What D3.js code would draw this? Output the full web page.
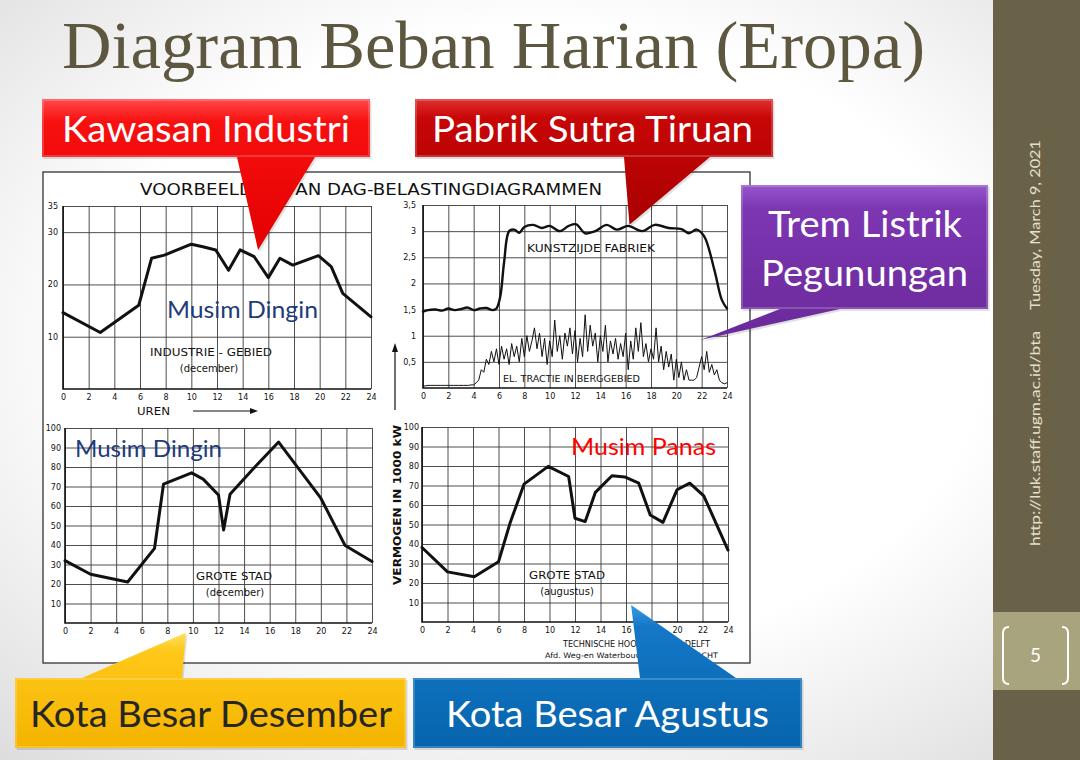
<!DOCTYPE html>
<html>
<head>
<meta charset="utf-8">
<script src="https://cdn.jsdelivr.net/npm/d3@7/dist/d3.min.js"></script>
<style>
  body { margin: 0; background: #fff; }
  .tick text { font-family: "DejaVu Sans", sans-serif; font-size: 8px; fill: #111; }
  .tick line { stroke: #3a3a3a; stroke-width: 0.9; }
  .scan { font-family: "DejaVu Sans", sans-serif; fill: #111; }
</style>
</head>
<body>
<div id="chart"></div>
<script>
// Hours on every x axis
const hourTicks = [0, 2, 4, 6, 8, 10, 12, 14, 16, 18, 20, 22, 24];

// Industrie-gebied (december), x 1000 kW
const industrieHours = [0, 2.9, 5.9, 6.9, 7.9, 8.9, 10, 10.9, 11.9, 12.9, 13.8, 14.9, 16, 16.9, 17.9, 19.9, 20.9, 21.8, 24];
const industrieLoad = [14.6, 10.8, 16, 25, 25.6, 26.6, 27.7, 27.2, 26.6, 22.7, 26.6, 25.3, 21.3, 25, 23.7, 25.5, 23.4, 18.3, 13.8];

// Kunstzijde fabriek
const fabriekHours = [0, 0.4, 1, 1.5, 2, 2.5, 3, 3.5, 4, 4.5, 5, 5.5, 5.8, 6.1, 6.4, 6.8, 7.2, 7.6, 8, 8.7,
  9.4, 10, 10.8, 11.5, 12.1, 12.8, 13.6, 14.5, 15.3, 16.2, 17.3, 18.3, 19.4, 20.4, 21, 21.6, 22.2, 23, 23.6, 24];
const fabriekLoad = [1.46, 1.49, 1.5, 1.48, 1.52, 1.49, 1.51, 1.54, 1.49, 1.52, 1.53, 1.49, 1.52, 1.75, 2.4, 3.0, 3.03, 2.97, 3.08, 3.12,
  3.06, 3.1, 3.0, 3.1, 3.13, 2.96, 3.0, 3.12, 3.03, 3.1, 3.0, 3.12, 3.06, 3.04, 2.96, 3.03, 2.9, 2.26, 1.68, 1.52];

// El. tractie in berggebied, one reading every 0.2 h from 0 to 24
const tractieStep = 0.2;
const tractieLoad = [
  0.04, 0.04, 0.05, 0.05, 0.05, 0.05, 0.05, 0.05, 0.05, 0.05, 0.05, 0.05, 0.05, 0.05, 0.05, 0.05, 0.05, 0.05, 0.05, 0.06,
  0.06, 0.1, 0.15, 0.35, 0.3,
  0.55, 0.45, 0.7, 0.5, 0.75, 0.45, 0.8, 0.55, 0.75, 0.45,
  0.85, 0.6, 0.8, 0.5, 0.95, 0.6, 1.0, 0.7, 0.9, 1.15,
  0.75, 1.05, 0.6, 0.95, 0.45, 0.9, 0.6, 1.3, 0.7, 1.0,
  0.55, 1.05, 0.8, 1.15, 0.65, 1.1, 0.5, 0.95, 0.6, 1.4,
  0.7, 1.2, 0.8, 1.05, 0.5, 1.0, 0.7, 1.2, 0.5, 0.9,
  0.65, 0.95, 0.55, 0.85, 0.6, 1.05, 0.35, 0.9, 0.55, 1.15,
  0.7, 1.25, 0.6, 0.85, 0.5, 0.75, 0.55, 1.15, 0.5, 0.8,
  0.35, 0.7, 0.4, 0.65, 0.15, 0.55, 0.2, 0.5, 0.15, 0.35,
  0.15, 0.15, 0.15, 0.2, 0.4, 0.6, 0.35, 0.7, 0.3, 0.45,
  0.25, 0.35, 0.15, 0.1, 0.08, 0.1
];

// Grote stad (december)
const decHours = [0, 2, 4.9, 7, 7.7, 9.9, 10.8, 12, 12.4, 12.9, 14.7, 16.7, 20, 21.9, 24];
const decLoad = [32, 25, 21, 38.3, 71.2, 77, 73.8, 65.6, 47.7, 66, 79, 92.8, 64, 39.7, 31.5];

// Grote stad (augustus)
const augHours = [0, 2, 4.1, 6, 6.9, 8, 9.9, 11.5, 12, 12.8, 13.6, 14.9, 15.9, 17, 17.9, 18.9, 20, 21, 22.1, 24];
const augLoad = [38.2, 25.7, 23.2, 30.9, 50.6, 70.7, 79.8, 74.6, 53.2, 51.5, 66.5, 75, 74.4, 71.2, 54.9, 51.1, 67.8, 71.2, 64.7, 36.9];

// y ticks per panel
const industrieTicks = [10, 20, 30, 35];
const fabriekTicks = [0.5, 1, 1.5, 2, 2.5, 3, 3.5];
const stadTicks = [10, 20, 30, 40, 50, 60, 70, 80, 90, 100];

const W = 1080, H = 760;
const svg = d3.select("#chart").append("svg").attr("width", W).attr("height", H);
const defs = svg.append("defs");

function linGrad(id, stops) {
  const g = defs.append("linearGradient").attr("id", id)
    .attr("x1", 0).attr("y1", 0).attr("x2", 0).attr("y2", 1);
  stops.forEach(([o, c]) => g.append("stop").attr("offset", o).attr("stop-color", c));
}
const bg = defs.append("radialGradient").attr("id", "bg")
  .attr("cx", "0.5").attr("cy", "0.45").attr("r", "0.75");
bg.append("stop").attr("offset", "0.55").attr("stop-color", "#ffffff");
bg.append("stop").attr("offset", "1").attr("stop-color", "#dcdcdc");
linGrad("gRed", [[0, "#ff4a4a"], [0.15, "#f81010"], [1, "#e20000"]]);
linGrad("gDark", [[0, "#e03030"], [0.15, "#c80606"], [1, "#a80000"]]);
linGrad("gPurple", [[0, "#9656cc"], [0.15, "#7c36b2"], [1, "#6a2a9a"]]);
linGrad("gYellow", [[0, "#ffe060"], [0.15, "#ffc81a"], [1, "#f4b400"]]);
linGrad("gBlue", [[0, "#3a9ae0"], [0.15, "#1478c8"], [1, "#0664ac"]]);

// slide background
svg.append("rect").attr("width", W).attr("height", H).attr("fill", "url(#bg)");

// sidebar
svg.append("rect").attr("x", 993).attr("y", 0).attr("width", 87).attr("height", H).attr("fill", "#6a6248");
svg.append("rect").attr("x", 993).attr("y", 612).attr("width", 87).attr("height", 78).attr("fill", "#a8a47e");
svg.append("path").attr("d", "M1009,627 Q1003,627 1003,633 V678 Q1003,684 1009,684")
  .attr("fill", "none").attr("stroke", "#fff").attr("stroke-width", 2);
svg.append("path").attr("d", "M1062,627 Q1068,627 1068,633 V678 Q1068,684 1062,684")
  .attr("fill", "none").attr("stroke", "#fff").attr("stroke-width", 2);
svg.append("text").attr("x", 1035.5).attr("y", 662).attr("text-anchor", "middle")
  .attr("font-family", "Lato, sans-serif").attr("font-size", 19).attr("fill", "#fff").text("5");
svg.append("text").attr("transform", "translate(1040,310) rotate(-90)")
  .attr("font-family", "Lato, sans-serif").attr("font-size", 14).attr("fill", "#e4e0cc")
  .attr("textLength", 170).attr("lengthAdjust", "spacingAndGlyphs").text("Tuesday, March 9, 2021");
svg.append("text").attr("transform", "translate(1040,546) rotate(-90)")
  .attr("font-family", "Lato, sans-serif").attr("font-size", 14).attr("fill", "#e4e0cc")
  .attr("textLength", 215).attr("lengthAdjust", "spacingAndGlyphs").text("http://luk.staff.ugm.ac.id/bta");

// title
svg.append("text").attr("x", 62).attr("y", 68)
  .attr("font-family", "'Liberation Serif', serif").attr("font-size", 68).attr("fill", "#5d573f")
  .attr("textLength", 863).attr("lengthAdjust", "spacingAndGlyphs")
  .text("Diagram Beban Harian (Eropa)");

// scanned sheet
svg.append("rect").attr("x", 43).attr("y", 172).attr("width", 707).attr("height", 491)
  .attr("fill", "#fff").attr("stroke", "#333").attr("stroke-width", 1.3);
svg.append("text").attr("class", "scan").attr("x", 140).attr("y", 195)
  .attr("font-size", 16.5).attr("textLength", 462).attr("lengthAdjust", "spacingAndGlyphs")
  .text("VOORBEELDEN VAN DAG-BELASTINGDIAGRAMMEN");

const panels = [
  { left: 63, right: 371, bottom: 389, top: 206, ymax: 35, ticks: industrieTicks, pad: 5 },
  { left: 423, right: 727, bottom: 388, top: 205, ymax: 3.5, ticks: fabriekTicks, pad: 7 },
  { left: 65, right: 372, bottom: 623, top: 428, ymax: 100, ticks: stadTicks, pad: 4 },
  { left: 422, right: 728, bottom: 622, top: 427, ymax: 100, ticks: stadTicks, pad: 3 },
];

panels.forEach(p => {
  p.x = d3.scaleLinear().domain([0, 24]).range([p.left, p.right]);
  p.y = d3.scaleLinear().domain([0, p.ymax]).range([p.bottom, p.top]);
  const g = svg.append("g");
  const xAxis = g.append("g").attr("transform", `translate(0,${p.bottom})`)
    .call(d3.axisBottom(p.x).tickValues(hourTicks).tickSize(-(p.bottom - p.top)).tickPadding(5));
  xAxis.select(".domain").remove();
  const yAxis = g.append("g").attr("transform", `translate(${p.left},0)`)
    .call(d3.axisLeft(p.y).tickValues(p.ticks).tickSize(-(p.right - p.left)).tickPadding(p.pad)
      .tickFormat(d => String(d).replace(".", ",")));
  yAxis.select(".domain").remove();
  g.append("path")
    .attr("d", `M${p.left},${p.top}V${p.bottom}H${p.right}`)
    .attr("fill", "none").attr("stroke", "#111").attr("stroke-width", 1.6);
});

const line = p => d3.line().x(d => p.x(d[0])).y(d => p.y(d[1]));

function drawLine(p, pts, width, curve) {
  svg.append("path").datum(pts)
    .attr("d", line(p).curve(curve || d3.curveLinear))
    .attr("fill", "none").attr("stroke", "#111").attr("stroke-width", width)
    .attr("stroke-linejoin", "round").attr("stroke-linecap", "round");
}

drawLine(panels[0], d3.zip(industrieHours, industrieLoad), 3);
drawLine(panels[1], d3.zip(fabriekHours, fabriekLoad), 2.4, d3.curveCatmullRom);
drawLine(panels[1], tractieLoad.map((v, i) => [i * tractieStep, v]), 1);
drawLine(panels[2], d3.zip(decHours, decLoad), 3);
drawLine(panels[3], d3.zip(augHours, augLoad), 3);

// scan labels
function scanText(x, y, size, txt, len, anchor) {
  const t = svg.append("text").attr("class", "scan").attr("x", x).attr("y", y)
    .attr("font-size", size).attr("text-anchor", anchor || "start").text(txt);
  if (len) t.attr("textLength", len).attr("lengthAdjust", "spacingAndGlyphs");
  return t;
}
scanText(150, 356, 10, "INDUSTRIE - GEBIED", 122);
scanText(209, 372, 10, "(december)", null, "middle");
scanText(137, 415, 10.5, "UREN", 33);
svg.append("path").attr("d", "M193,411H255").attr("stroke", "#111").attr("stroke-width", 1.2);
svg.append("path").attr("d", "M258,411L250,408V414Z").attr("fill", "#111");
scanText(527, 252, 10, "KUNSTZIJDE  FABRIEK", 128);
scanText(503, 382, 8.5, "EL. TRACTIE IN BERGGEBIED", 137);
scanText(196, 580, 10, "GROTE  STAD", 76);
scanText(235, 596, 10, "(december)", null, "middle");
scanText(529, 579, 10, "GROTE  STAD", 76);
scanText(567, 595, 10, "(augustus)", null, "middle");
scanText(563, 647, 8.5, "TECHNISCHE HOOGESCHOOL DELFT", 147);
scanText(545, 658, 7.5, "Afd. Weg-en Waterbouw en WATERKRACHT", 173);
svg.append("text").attr("class", "scan").attr("transform", "translate(401,585) rotate(-90)")
  .attr("font-size", 10.5).attr("font-weight", "bold")
  .attr("textLength", 160).attr("lengthAdjust", "spacingAndGlyphs").text("VERMOGEN  IN  1000  kW");
svg.append("path").attr("d", "M395,410V351").attr("stroke", "#111").attr("stroke-width", 1.2);
svg.append("path").attr("d", "M395,343L392,352H398Z").attr("fill", "#111");

// season notes
function note(x, y, txt, len, color) {
  svg.append("text").attr("x", x).attr("y", y)
    .attr("font-family", "Lato, sans-serif").attr("font-size", 23).attr("fill", color)
    .attr("textLength", len).attr("lengthAdjust", "spacingAndGlyphs").text(txt);
}
note(167, 318, "Musim Dingin", 151, "#1f3b7a");
note(75, 457, "Musim Dingin", 147, "#1f3b7a");
note(571, 455, "Musim Panas", 145, "#ff0000");

// callouts: box, base of the tail, tip anchored in a panel's data units
const calloutTips = [
  { panel: 0, hour: 15.2, value: 26.6 },
  { panel: 1, hour: 16.3, value: 3.12 },
  { panel: 1, hour: 21.9, value: 0.92 },
  { panel: 2, hour: 9.45, value: -5 },
  { panel: 3, hour: 16.4, value: 8.7 },
];
const callouts = [
  { x: 42, y: 99, w: 328, h: 58, side: "bottom", base: [237, 315], fill: "url(#gRed)",
    lines: [{ t: "Kawasan Industri", x: 62, y: 142, len: 288 }], color: "#fff" },
  { x: 415, y: 99, w: 358, h: 58, side: "bottom", base: [624, 710], fill: "url(#gDark)",
    lines: [{ t: "Pabrik Sutra Tiruan", x: 432, y: 142, len: 321 }], color: "#fff" },
  { x: 741, y: 185, w: 247, h: 124, side: "bottom", base: [780, 840], fill: "url(#gPurple)",
    lines: [{ t: "Trem Listrik", x: 768, y: 237, len: 194 }, { t: "Pegunungan", x: 761, y: 286, len: 207 }], color: "#fff" },
  { x: 15, y: 678, w: 391, h: 70, side: "top", base: [82, 182], fill: "url(#gYellow)",
    lines: [{ t: "Kota Besar Desember", x: 30, y: 727, len: 362 }], color: "#262626" },
  { x: 413, y: 678, w: 389, h: 70, side: "top", base: [640, 736], fill: "url(#gBlue)",
    lines: [{ t: "Kota Besar Agustus", x: 446, y: 727, len: 323 }], color: "#fff" },
];

callouts.forEach((c, i) => {
  const tip = calloutTips[i];
  const p = panels[tip.panel];
  const tx = p.x(tip.hour), ty = p.y(tip.value);
  let d;
  if (c.side === "bottom") {
    d = `M${c.x},${c.y}H${c.x + c.w}V${c.y + c.h}H${c.base[1]}L${tx},${ty}L${c.base[0]},${c.y + c.h}H${c.x}Z`;
  } else {
    d = `M${c.x},${c.y}H${c.base[0]}L${tx},${ty}L${c.base[1]},${c.y}H${c.x + c.w}V${c.y + c.h}H${c.x}Z`;
  }
  svg.append("path").attr("d", d).attr("fill", "rgba(0,0,0,0.12)").attr("transform", "translate(1.5,2)");
  svg.append("path").attr("d", d).attr("fill", c.fill);
  svg.append("rect").attr("x", c.x + 1).attr("y", c.y + 1).attr("width", c.w - 2).attr("height", c.h - 2)
    .attr("fill", "none").attr("stroke", "rgba(255,255,255,0.25)").attr("stroke-width", 1.5);
  c.lines.forEach(l => {
    svg.append("text").attr("x", l.x).attr("y", l.y)
      .attr("font-family", "Lato, sans-serif").attr("font-size", 36).attr("fill", c.color)
      .attr("textLength", l.len).attr("lengthAdjust", "spacingAndGlyphs").text(l.t);
  });
});
</script>
</body>
</html>
